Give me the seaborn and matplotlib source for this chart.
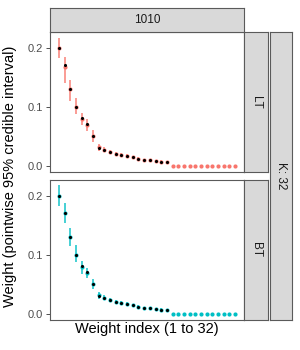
import numpy as np
import pandas as pd
import matplotlib
matplotlib.use("Agg")
import matplotlib.pyplot as plt
import seaborn as sns

# data
weight_index = list(range(1, 33))
true_weight = [0.200, 0.170, 0.130, 0.100, 0.080, 0.070, 0.050, 0.030, 0.027, 0.023,
               0.020, 0.018, 0.016, 0.014, 0.012, 0.010, 0.009, 0.008, 0.007, 0.006]
lt_mean = [0.200, 0.167, 0.130, 0.100, 0.079, 0.069, 0.050, 0.031, 0.027, 0.023,
           0.020, 0.018, 0.016, 0.014, 0.012, 0.010, 0.009, 0.008, 0.007, 0.006] + [0.0] * 12
lt_lower = [0.182, 0.141, 0.110, 0.088, 0.069, 0.058, 0.040, 0.025, 0.023, 0.020,
            0.017, 0.015, 0.013, 0.012, 0.010, 0.008, 0.007, 0.006, 0.005, 0.004] + [0.0] * 12
lt_upper = [0.216, 0.185, 0.146, 0.114, 0.090, 0.079, 0.060, 0.037, 0.031, 0.027,
            0.023, 0.021, 0.019, 0.017, 0.015, 0.012, 0.011, 0.010, 0.009, 0.008] + [0.0] * 12
bt_mean = [0.200, 0.170, 0.130, 0.100, 0.079, 0.069, 0.050, 0.031, 0.027, 0.023,
           0.020, 0.018, 0.016, 0.014, 0.012, 0.010, 0.009, 0.008, 0.007, 0.006] + [0.0] * 12
bt_lower = [0.182, 0.153, 0.114, 0.088, 0.068, 0.060, 0.042, 0.025, 0.023, 0.020,
            0.017, 0.015, 0.013, 0.012, 0.010, 0.008, 0.007, 0.006, 0.005, 0.004] + [0.0] * 12
bt_upper = [0.218, 0.187, 0.146, 0.116, 0.090, 0.078, 0.059, 0.037, 0.031, 0.027,
            0.023, 0.021, 0.019, 0.017, 0.015, 0.012, 0.011, 0.010, 0.009, 0.008] + [0.0] * 12
panels = ["LT", "BT"]
panel_colors = ["#F8766D", "#00BFC4"]
col_label = "1010"
row_label = "K: 32"
yticks = [0.0, 0.1, 0.2]

est = pd.DataFrame({
    "idx": weight_index * 2,
    "mean": lt_mean + bt_mean,
    "lower": lt_lower + bt_lower,
    "upper": lt_upper + bt_upper,
    "panel": ["LT"] * 32 + ["BT"] * 32,
})
truth = pd.DataFrame({"idx": weight_index[:len(true_weight)], "w": true_weight})

sns.set_style("white")
plt.rcParams["font.family"] = ["Liberation Sans", "DejaVu Sans"]

fig = plt.figure(figsize=(3, 3.5), dpi=100)
W, H = 300.0, 350.0


def box(x0, y0, x1, y1):
    # pixel coords (top-left origin) -> figure fraction rect
    return [x0 / W, 1 - y1 / H, (x1 - x0) / W, (y1 - y0) / H]


def strip(rect, label, rot=0):
    s_ax = fig.add_axes(box(*rect))
    s_ax.set_facecolor("#D9D9D9")
    s_ax.set_xticks([])
    s_ax.set_yticks([])
    for s in s_ax.spines.values():
        s.set_color(edge)
        s.set_linewidth(0.8)
    s_ax.text(0.5, 0.5, label, rotation=rot, ha="center", va="center",
              fontsize=8.5, color="#1A1A1A", transform=s_ax.transAxes)
    return s_ax


edge = "#5A5A5A"
panel_boxes = [(50, 32, 244, 172), (50, 180, 244, 320)]
for i, (name, color) in enumerate(zip(panels, panel_colors)):
    ax = fig.add_axes(box(*panel_boxes[i]))
    d = est[est["panel"] == name]
    ax.vlines(d["idx"], d["lower"], d["upper"], color=color, lw=1.2, alpha=0.85, zorder=2)
    sns.scatterplot(data=d, x="idx", y="mean", color=color, s=9, linewidth=0,
                    ax=ax, zorder=3)
    sns.scatterplot(data=truth, x="idx", y="w", color="black", s=5, linewidth=0,
                    ax=ax, zorder=4)
    ax.set_xlim(-0.55, 33.55)
    ax.set_ylim(-0.0108, 0.2268)
    ax.set_yticks(yticks)
    ax.set_yticklabels(["0.0", "0.1", "0.2"])
    ax.set_xticks([])
    ax.set_xlabel("")
    ax.set_ylabel("")
    ax.tick_params(axis="y", length=3, width=0.6, color="#333333", labelsize=8,
                   labelcolor="#4D4D4D", pad=2, left=True)
    for s in ax.spines.values():
        s.set_color(edge)
        s.set_linewidth(0.8)

    strip((244, panel_boxes[i][1], 268, panel_boxes[i][3]), name, rot=-90)

strip((50, 8, 244, 32), col_label)
strip((270, 32, 292, 320), row_label, rot=-90)

fig.text(147 / W, 1 - 329 / H, "Weight index (1 to 32)", ha="center", va="center",
         fontsize=10.5, color="black")
fig.text(10 / W, 1 - 176 / H, "Weight (pointwise 95% credible interval)", ha="center",
         va="center", rotation=90, fontsize=10.5, color="black")

fig.savefig("out.png", dpi=100)
